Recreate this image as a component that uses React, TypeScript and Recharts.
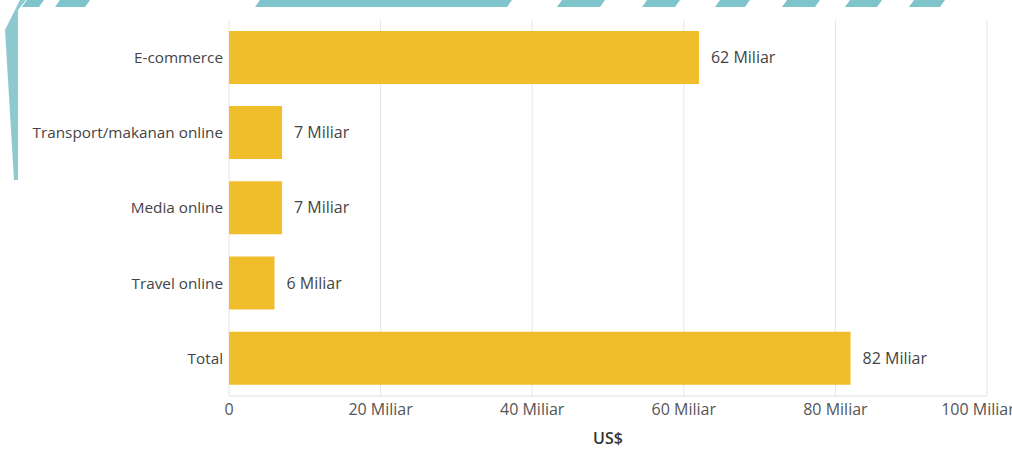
import { BarChart, Bar, XAxis, YAxis, CartesianGrid, LabelList } from 'recharts'

const categories = ['E-commerce', 'Transport/makanan online', 'Media online', 'Travel online', 'Total']
const values = [62, 7, 7, 6, 82]
const xTicks = [0, 20, 40, 60, 80, 100]

const data = categories.map((name, i) => ({ name, value: values[i] }))

const FONT = '"Open Sans", "Noto Sans", sans-serif'
const TEAL = '#7fc4cb'

// top stripes of the backdrop, [x at top-left, x at top-right]
const stripes = [
  [27, 44], [60, 90], [260, 512], [562, 605], [647, 680], [720, 750], [787, 820], [850, 882], [914, 945],
]

export default function App() {
  return (
    <div style={{ position: 'absolute', left: 0, top: 0, width: 1012, height: 450, background: '#fff', fontFamily: FONT }}>
      <svg width={1012} height={450} style={{ position: 'absolute', left: 0, top: 0 }}>
        {stripes.map(([a, b], i) => (
          <polygon key={i} points={`${a},0 ${b},0 ${b - 5},7 ${a - 5},7`} fill={TEAL} />
        ))}
        <polygon points="20,0 26,0 18,10 18,180 14,180 5,30" fill={TEAL} opacity={0.9} />
      </svg>
      <div style={{ position: 'absolute', left: 0, top: 0 }}>
        <BarChart
          width={1012}
          height={450}
          data={data}
          layout="vertical"
          margin={{ top: 20, right: 25, left: 0, bottom: 0 }}
          barCategoryGap="14.5%"
        >
          <CartesianGrid horizontal={false} stroke="#e6e6e6" />
          <XAxis
            type="number"
            domain={[0, 100]}
            ticks={xTicks}
            height={54}
            tickLine={false}
            axisLine={{ stroke: '#e0e0e0' }}
            tick={{ fill: '#555', fontSize: 16, fontFamily: FONT }}
            tickFormatter={(v: number) => (v === 0 ? '0' : `${v} Miliar`)}
            label={{ value: 'US$', position: 'insideBottom', offset: 6, fill: '#333', fontSize: 16, fontWeight: 600, fontFamily: FONT }}
          />
          <YAxis
            type="category"
            dataKey="name"
            width={229}
            tickLine={false}
            axisLine={false}
            tickMargin={0}
            tick={{ fill: '#444', fontSize: 15.3, fontFamily: FONT }}
          />
          <Bar dataKey="value" fill="#f0be2a" isAnimationActive={false}>
            <LabelList
              dataKey="value"
              position="right"
              offset={12}
              fill="#444"
              fontSize={16}
              fontFamily={FONT}
              formatter={(v: number) => `${v} Miliar`}
            />
          </Bar>
        </BarChart>
      </div>
    </div>
  )
}
